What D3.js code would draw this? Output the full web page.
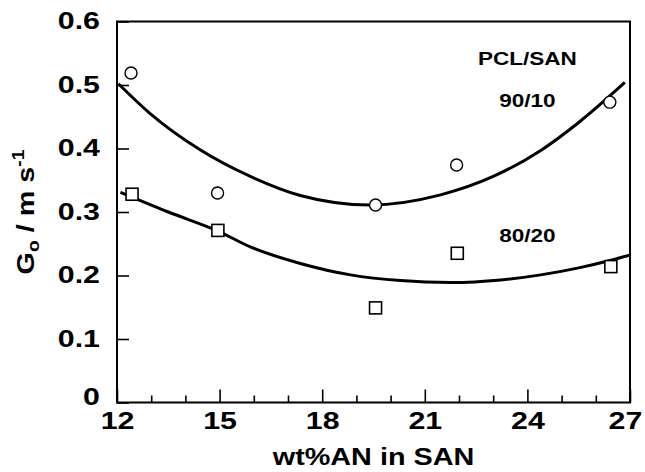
<!DOCTYPE html>
<html><head><meta charset="utf-8">
<script src="https://cdn.jsdelivr.net/npm/d3@7"></script>
<style>html,body{margin:0;padding:0;background:#fff;} svg{display:block;}</style>
</head><body>
<svg id="c" width="645" height="472"></svg>
<script>
// ---- data ----
const xTicksMajor = [12, 15, 18, 21, 24, 27];
const xTicksMinor = [13, 14, 16, 17, 19, 20, 22, 23, 25, 26];
const yTicks = [0, 0.1, 0.2, 0.3, 0.4, 0.5, 0.6];

const circleX = [12.41, 14.94, 19.56, 21.93, 26.41];   // PCL/SAN 90/10
const circleY = [0.519, 0.330, 0.311, 0.374, 0.473];
const squareX = [12.44, 14.95, 19.56, 21.95, 26.44];   // PCL/SAN 80/20
const squareY = [0.328, 0.271, 0.149, 0.235, 0.214];

const fit9010X = [12.04, 12.97, 14.43, 15.9, 17.36, 19.4, 21.46, 23.0, 24.39, 25.5, 26.85];
const fit9010Y = [0.502, 0.455, 0.398, 0.356, 0.326, 0.311, 0.327, 0.356, 0.397, 0.441, 0.504];
const fit8020X = [12.1, 13.5, 14.95, 15.9, 17.36, 18.83, 20.29, 21.76, 23.22, 24.39, 25.5, 26.44, 26.98];
const fit8020Y = [0.331, 0.300, 0.270, 0.245, 0.219, 0.201, 0.192, 0.189, 0.193, 0.201, 0.212, 0.224, 0.232];

const legendTitle = "PCL/SAN";
const seriesLabels = ["90/10", "80/20"];
const legendTitleY = 0.543;
const seriesLabelY = [0.476, 0.264];
const seriesLabelX = 24.0;

// ---- drawing ----
const svg = d3.select("#c");
const L = 117, R = 630, T = 21.5, B = 402.5;
const x = d3.scaleLinear().domain([12, 27]).range([L, R]);
const y = d3.scaleLinear().domain([0, 0.6]).range([B, T]);
const FONT = "'Liberation Sans', Arial, Helvetica, sans-serif";
const SX = 1.32;

function stretch(sel, s) {
  sel.each(function () {
    const t = d3.select(this);
    const x0 = +t.attr("x") || 0;
    t.attr("x", x0 / s).attr("transform", `scale(${s},1)`);
  });
}

// frame
svg.append("rect").attr("x", L).attr("y", T).attr("width", R - L).attr("height", B - T)
  .attr("fill", "none").attr("stroke", "#000").attr("stroke-width", 2);

// x axis: major + minor ticks (inward)
const gxMinor = svg.append("g").attr("transform", `translate(0,${B})`)
  .call(d3.axisBottom(x).tickValues(xTicksMinor).tickSize(-7).tickFormat(""));
const gx = svg.append("g").attr("transform", `translate(0,${B})`)
  .call(d3.axisBottom(x).tickValues(xTicksMajor).tickSize(-13).tickPadding(10).tickFormat(d3.format("d")));
[gxMinor, gx].forEach(g => {
  g.select(".domain").remove();
  g.selectAll("line").attr("stroke", "#000").attr("stroke-width", 1.6);
});
gx.selectAll("text").attr("font-family", FONT).attr("font-weight", "bold").attr("font-size", 23).attr("fill", "#000");
gx.selectAll(".tick").filter(d => d === 27).select("text").attr("x", -5);
stretch(gx.selectAll("text"), SX);

// y axis
const gy = svg.append("g").attr("transform", `translate(${L},0)`)
  .call(d3.axisLeft(y).tickValues(yTicks).tickSize(-12).tickPadding(17)
    .tickFormat(d => d === 0 ? "0" : d3.format(".1f")(d)));
gy.select(".domain").remove();
gy.selectAll("line").attr("stroke", "#000").attr("stroke-width", 1.6);
gy.selectAll("text").attr("font-family", FONT).attr("font-weight", "bold").attr("font-size", 23).attr("fill", "#000");
gy.selectAll(".tick").filter(d => d === 0).select("text").attr("dy", "0.1em");
stretch(gy.selectAll("text"), SX);

// axis titles
svg.append("text").attr("transform", `translate(${(L + R) / 2},465) scale(1.2,1)`)
  .attr("text-anchor", "middle").attr("font-family", FONT).attr("font-weight", "bold")
  .attr("font-size", 24).text("wt%AN in SAN");

const yt = svg.append("text").attr("transform", `translate(34,${(T + B) / 2}) rotate(-90) scale(1.2,1)`)
  .attr("text-anchor", "middle").attr("font-family", FONT).attr("font-weight", "bold").attr("font-size", 24);
yt.append("tspan").text("G");
yt.append("tspan").attr("font-size", 16).attr("dy", 5).text("o");
yt.append("tspan").attr("dy", -5).text(" / m s");
yt.append("tspan").attr("font-size", 16).attr("dy", -10).text("-1");

// fitted curves
const line = d3.line().x(d => x(d[0])).y(d => y(d[1])).curve(d3.curveMonotoneX);
[[fit9010X, fit9010Y], [fit8020X, fit8020Y]].forEach(([xs, ys]) => {
  svg.append("path").datum(xs.map((v, i) => [v, ys[i]])).attr("d", line)
    .attr("fill", "none").attr("stroke", "#000").attr("stroke-width", 3);
});

// markers
svg.append("g").selectAll("circle").data(circleX.map((v, i) => [v, circleY[i]])).join("circle")
  .attr("cx", d => x(d[0])).attr("cy", d => y(d[1])).attr("r", 6)
  .attr("fill", "#fff").attr("stroke", "#000").attr("stroke-width", 1.4);
const s = 12;
svg.append("g").selectAll("rect").data(squareX.map((v, i) => [v, squareY[i]])).join("rect")
  .attr("x", d => x(d[0]) - s / 2).attr("y", d => y(d[1]) - s / 2).attr("width", s).attr("height", s)
  .attr("fill", "#fff").attr("stroke", "#000").attr("stroke-width", 1.6);

// annotations
function label(txt, xv, yv) {
  svg.append("text").attr("transform", `translate(${x(xv)},${y(yv) + 7}) scale(1.22,1)`)
    .attr("text-anchor", "middle").attr("font-family", FONT).attr("font-weight", "bold")
    .attr("font-size", 18.5).text(txt);
}
label(legendTitle, seriesLabelX, legendTitleY);
label(seriesLabels[0], seriesLabelX, seriesLabelY[0]);
label(seriesLabels[1], seriesLabelX, seriesLabelY[1]);
</script>
</body></html>
